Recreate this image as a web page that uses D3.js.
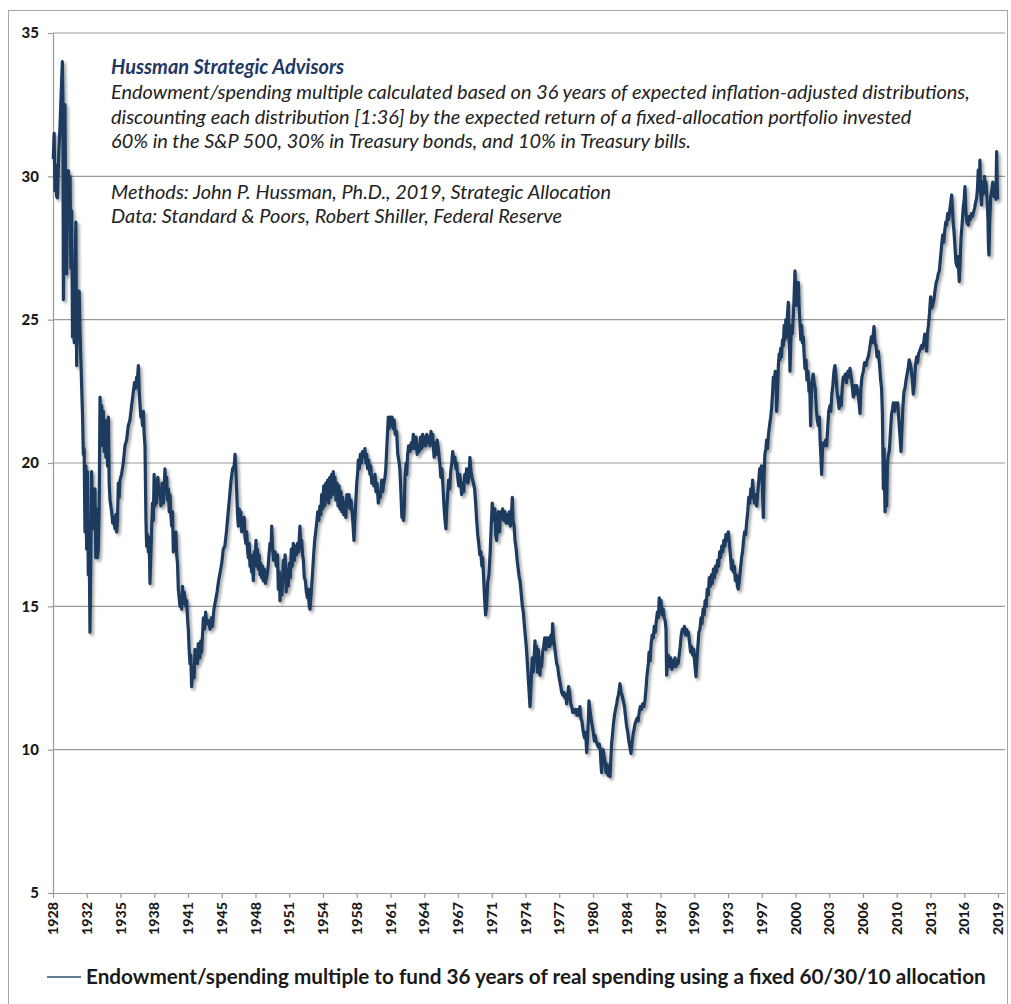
<!DOCTYPE html>
<html><head><meta charset="utf-8">
<script src="https://cdn.jsdelivr.net/npm/d3@7"></script>
<style>body{margin:0;background:#fff}svg{display:block}</style>
</head><body>
<svg id="chart" width="1011" height="1004"></svg>
<script>
// ---------------- DATA ----------------
const yTickValues = [5, 10, 15, 20, 25, 30, 35];
const xTickLabels = ["1928","1932","1935","1938","1941","1945","1948","1951","1954","1958","1961","1964","1967","1971","1974","1977","1980","1984","1987","1990","1993","1997","2000","2003","2006","2010","2013","2016","2019"];
const annotationTitle = "Hussman Strategic Advisors";
const annotationLines = [
  "Endowment/spending multiple calculated based on 36 years of expected inflation-adjusted distributions,",
  "discounting each distribution [1:36] by the expected return of a fixed-allocation portfolio invested",
  "60% in the S&P 500, 30% in Treasury bonds, and 10% in Treasury bills."
];
const sourceLines = [
  "Methods: John P. Hussman, Ph.D., 2019, Strategic Allocation",
  "Data: Standard & Poors, Robert Shiller, Federal Reserve"
];
const legendLabel = "Endowment/spending multiple to fund 36 years of real spending using a fixed 60/30/10 allocation";

// [fractional year, endowment/spending multiple]
const endowmentMultiple = [
[1928.78,30.6],[1928.86,31.5],[1928.94,29.5],[1929.02,30.4],[1929.1,29.3],[1929.17,29.25],[1929.25,30.1],[1929.33,31.0],[1929.42,31.7],[1929.5,32.5],[1929.58,33.3],[1929.65,34.0],[1929.7,32.8],[1929.75,25.7],[1929.82,28.5],[1929.9,32.5],[1929.98,28.0],[1930.07,26.6],[1930.15,29.5],[1930.23,30.2],[1930.31,28.6],[1930.39,30.0],[1930.47,26.8],[1930.55,28.8],[1930.63,24.4],[1930.71,24.9],[1930.8,24.2],[1930.95,28.4],[1931.03,23.4],[1931.12,26.0],[1931.19,25.0],[1931.27,26.0],[1931.35,24.6],[1931.45,23.4],[1931.6,21.6],[1931.67,20.3],[1931.75,20.5],[1931.83,17.6],[1931.92,19.9],[1931.99,17.0],[1932.07,19.7],[1932.15,16.1],[1932.23,17.5],[1932.31,14.1],[1932.4,17.0],[1932.47,19.7],[1932.55,18.4],[1932.63,19.1],[1932.72,17.7],[1932.79,19.1],[1932.87,16.7],[1932.95,18.4],[1933.03,16.7],[1933.11,17.0],[1933.2,18.5],[1933.28,22.3],[1933.36,20.6],[1933.44,22.0],[1933.52,20.8],[1933.6,21.8],[1933.68,20.4],[1933.76,21.5],[1933.84,20.2],[1933.92,21.3],[1934.0,19.9],[1934.08,21.6],[1934.16,19.3],[1934.24,18.7],[1934.32,18.5],[1934.4,18.3],[1934.5,17.9],[1934.6,18.1],[1934.72,17.7],[1934.8,18.2],[1934.88,17.6],[1934.96,18.0],[1935.04,19.3],[1935.12,18.8],[1935.2,19.4],[1935.35,19.6],[1935.52,20.0],[1935.68,20.6],[1935.84,20.8],[1936.0,21.3],[1936.16,21.5],[1936.32,22.0],[1936.49,22.5],[1936.6,22.8],[1936.72,22.6],[1936.81,23.0],[1936.9,23.0],[1936.97,23.4],[1937.05,22.5],[1937.13,22.0],[1937.21,21.6],[1937.29,21.7],[1937.37,21.3],[1937.45,21.8],[1937.53,21.0],[1937.61,20.6],[1937.7,18.0],[1937.77,17.1],[1937.85,17.5],[1937.93,16.9],[1938.01,17.4],[1938.09,15.8],[1938.17,16.8],[1938.25,17.7],[1938.33,18.6],[1938.41,18.0],[1938.49,19.6],[1938.57,18.5],[1938.65,19.4],[1938.73,18.6],[1938.85,19.5],[1938.95,18.9],[1939.05,19.1],[1939.15,18.5],[1939.25,19.3],[1939.37,18.6],[1939.45,19.0],[1939.53,19.8],[1939.62,19.0],[1939.7,19.5],[1939.78,18.7],[1939.86,19.1],[1939.94,18.3],[1940.02,18.9],[1940.1,18.2],[1940.18,17.8],[1940.26,18.3],[1940.34,16.9],[1940.42,17.3],[1940.5,17.0],[1940.58,17.6],[1940.66,16.8],[1940.74,16.5],[1940.82,15.6],[1940.9,15.3],[1940.98,15.0],[1941.06,15.3],[1941.14,14.9],[1941.22,15.7],[1941.3,15.1],[1941.38,15.5],[1941.46,15.3],[1941.54,15.0],[1941.62,15.2],[1941.7,14.6],[1941.78,14.2],[1941.86,13.5],[1941.94,13.0],[1942.02,13.3],[1942.1,12.2],[1942.18,12.6],[1942.26,12.9],[1942.34,12.5],[1942.42,13.5],[1942.5,13.1],[1942.58,13.4],[1942.66,13.0],[1942.74,13.7],[1942.82,13.4],[1942.9,13.2],[1942.98,13.8],[1943.06,13.4],[1943.15,14.0],[1943.23,14.6],[1943.35,14.2],[1943.45,14.8],[1943.55,14.4],[1943.7,14.5],[1943.87,14.2],
[1944.0,14.6],[1944.1,14.3],[1944.25,14.9],[1944.4,15.2],[1944.55,15.5],[1944.7,15.9],[1944.85,16.2],[1945.0,16.5],[1945.15,17.0],[1945.3,17.1],[1945.45,17.6],[1945.6,18.2],[1945.75,18.8],[1945.9,19.4],[1946.05,19.8],[1946.2,19.9],[1946.28,20.3],[1946.36,19.7],[1946.44,19.0],[1946.52,18.2],[1946.6,17.8],[1946.68,18.4],[1946.76,17.9],[1946.84,18.3],[1946.92,17.6],[1947.0,18.0],[1947.08,17.7],[1947.16,18.1],[1947.24,17.4],[1947.32,17.2],[1947.4,17.6],[1947.48,17.0],[1947.56,16.7],[1947.64,17.2],[1947.72,16.4],[1947.8,16.8],[1947.88,16.2],[1947.96,16.5],[1948.04,15.9],[1948.12,16.9],[1948.2,16.6],[1948.3,17.3],[1948.36,16.4],[1948.44,17.0],[1948.52,16.3],[1948.6,16.8],[1948.68,16.1],[1948.76,16.5],[1948.84,16.0],[1948.92,16.4],[1949.0,15.9],[1949.1,16.3],[1949.2,15.8],[1949.32,16.0],[1949.45,16.3],[1949.55,16.8],[1949.65,17.2],[1949.75,17.0],[1949.81,17.8],[1949.9,17.0],[1950.0,16.6],[1950.13,16.9],[1950.25,16.4],[1950.37,16.8],[1950.45,15.6],[1950.55,16.2],[1950.61,15.2],[1950.7,16.0],[1950.8,15.4],[1950.93,16.6],[1951.0,16.0],[1951.1,16.8],[1951.2,15.5],[1951.31,16.3],[1951.4,15.7],[1951.5,16.5],[1951.6,16.0],[1951.7,17.0],[1951.8,16.4],[1951.89,17.2],[1952.0,16.6],[1952.1,17.1],[1952.2,16.8],[1952.3,17.2],[1952.4,16.9],[1952.53,17.8],[1952.62,17.0],[1952.7,17.3],[1952.78,16.8],[1952.86,16.6],[1952.95,16.0],[1953.05,15.9],[1953.15,15.5],[1953.25,15.3],[1953.34,15.6],[1953.42,15.0],[1953.5,14.9],[1953.58,15.3],[1953.66,15.7],[1953.75,16.2],[1953.85,16.8],[1953.95,17.3],[1954.05,17.6],[1954.14,17.9],[1954.25,18.3],[1954.35,18.0],[1954.45,18.5],[1954.55,18.2],[1954.62,18.9],[1954.72,18.4],[1954.82,19.2],[1954.92,18.5],[1955.02,19.3],[1955.1,18.7],[1955.2,19.4],[1955.3,18.6],[1955.4,19.5],[1955.5,18.8],[1955.58,19.6],[1955.66,18.9],[1955.74,19.7],[1955.82,19.0],[1955.9,19.5],[1956.0,18.7],[1956.1,19.3],[1956.2,18.5],[1956.3,19.2],[1956.39,18.4],[1956.48,19.0],[1956.56,18.3],[1956.65,18.8],[1956.75,18.2],[1956.87,18.6],[1956.95,18.1],[1957.05,18.9],[1957.15,18.5],[1957.25,18.9],[1957.35,18.4],[1957.45,18.7],[1957.55,18.3],[1957.65,17.8],[1957.73,17.3],[1957.8,17.9],[1957.9,18.6],[1958.0,19.3],[1958.1,19.7],[1958.15,20.1],[1958.25,19.8],[1958.35,20.3],[1958.45,20.0],[1958.55,20.4],[1958.65,20.2],[1958.79,20.5],[1958.88,20.0],[1958.96,20.3],[1959.05,19.8],[1959.15,20.1],[1959.27,19.6],[1959.35,19.9],[1959.45,19.3],
[1959.55,19.5],[1959.65,19.2],[1959.76,19.6],[1959.85,19.0],[1959.95,19.3],[1960.08,18.6],[1960.18,19.0],[1960.28,18.8],[1960.4,19.4],[1960.5,19.0],[1960.6,19.3],[1960.72,19.5],[1960.8,19.8],[1960.9,20.6],[1961.0,21.3],[1961.04,21.6],[1961.12,21.2],[1961.2,21.6],[1961.3,21.3],[1961.4,21.6],[1961.52,21.2],[1961.6,21.5],[1961.7,21.0],[1961.84,21.1],[1961.95,20.3],[1962.05,20.1],[1962.15,19.8],[1962.25,19.0],[1962.35,18.1],[1962.45,18.3],[1962.5,18.0],[1962.58,18.5],[1962.65,19.5],[1962.75,20.0],[1962.81,19.6],[1962.9,20.3],[1963.0,20.6],[1963.13,20.4],[1963.25,20.7],[1963.35,20.5],[1963.45,21.0],[1963.54,20.8],[1963.62,20.5],[1963.72,20.9],[1963.82,20.3],[1963.93,20.6],[1964.02,20.4],[1964.15,20.9],[1964.25,20.5],[1964.35,21.0],[1964.45,20.6],[1964.55,20.9],[1964.65,20.6],[1964.75,21.0],[1964.85,20.7],[1964.95,20.9],[1965.05,20.6],[1965.15,21.1],[1965.25,20.8],[1965.31,21.0],[1965.45,20.2],[1965.55,20.7],[1965.65,20.3],[1965.75,20.8],[1965.85,20.5],[1966.0,20.0],[1966.1,19.5],[1966.2,19.8],[1966.3,19.2],[1966.4,18.5],[1966.5,18.0],[1966.59,17.7],[1966.65,18.3],[1966.75,18.9],[1966.85,19.4],[1966.95,19.1],[1967.05,19.7],[1967.15,20.0],[1967.24,20.4],[1967.35,20.0],[1967.45,20.2],[1967.55,19.8],[1967.62,20.0],[1967.72,19.5],[1967.82,19.2],[1967.92,19.6],[1968.02,19.3],[1968.1,18.9],[1968.2,19.3],[1968.3,19.0],[1968.4,19.6],[1968.5,19.4],[1968.58,19.8],[1968.7,19.3],[1968.8,19.5],[1968.9,20.2],[1969.0,19.7],[1969.1,19.5],[1969.23,19.3],[1969.35,19.1],[1969.45,18.6],[1969.55,18.0],[1969.65,17.5],[1969.75,17.2],[1969.85,16.8],[1969.95,16.9],[1970.05,16.4],[1970.12,16.7],[1970.22,16.0],[1970.32,15.2],[1970.41,14.7],[1970.5,15.0],[1970.6,15.8],[1970.73,16.1],[1970.85,16.9],[1970.95,17.8],[1971.05,18.6],[1971.12,18.2],[1971.2,18.0],[1971.3,18.4],[1971.38,17.5],[1971.47,17.3],[1971.55,18.0],[1971.65,18.3],[1971.75,17.6],[1971.85,18.3],[1971.95,18.1],[1972.05,18.4],[1972.15,18.0],[1972.28,18.3],[1972.38,17.9],[1972.48,18.2],[1972.6,17.9],[1972.7,18.3],[1972.8,17.8],[1972.9,18.2],[1972.98,18.8],[1973.05,18.0],[1973.15,17.8],[1973.24,17.3],[1973.35,17.0],[1973.45,16.6],[1973.55,16.3],[1973.65,16.0],[1973.72,15.9],[1973.85,15.4],[1973.95,15.0],[1974.04,14.8],[1974.15,14.3],[1974.25,13.9],[1974.35,13.5],[1974.45,12.9],[1974.55,12.3],[1974.62,11.9],[1974.68,11.5],[1974.75,12.0],[1974.82,12.6],[1974.9,13.2],[1975.0,12.7],[1975.08,13.2],[1975.16,13.8],[1975.24,13.3],
[1975.32,13.6],[1975.4,12.7],[1975.48,13.5],[1975.56,13.0],[1975.64,12.6],[1975.72,13.2],[1975.8,12.9],[1975.9,13.4],[1976.0,13.6],[1976.1,13.9],[1976.22,13.5],[1976.3,13.9],[1976.4,13.6],[1976.5,13.9],[1976.6,13.6],[1976.7,14.0],[1976.8,13.7],[1976.86,14.4],[1976.95,13.9],[1977.05,13.6],[1977.15,13.3],[1977.25,13.0],[1977.35,12.9],[1977.45,12.6],[1977.55,12.4],[1977.65,12.2],[1977.73,12.0],[1977.85,11.9],[1977.95,12.0],[1978.05,11.8],[1978.15,11.9],[1978.21,11.6],[1978.3,11.9],[1978.4,12.2],[1978.5,12.0],[1978.6,11.6],[1978.7,11.5],[1978.8,11.3],[1978.9,11.4],[1979.01,11.3],[1979.1,11.4],[1979.2,11.2],[1979.3,11.4],[1979.4,11.2],[1979.49,11.5],[1979.58,11.1],[1979.68,11.0],[1979.78,10.7],[1979.88,10.5],[1979.95,10.4],[1980.05,10.6],[1980.14,9.9],[1980.22,10.4],[1980.3,11.0],[1980.36,11.7],[1980.45,11.4],[1980.55,11.1],[1980.65,10.9],[1980.78,10.6],[1980.88,10.3],[1980.95,10.5],[1981.05,10.3],[1981.15,10.2],[1981.26,10.1],[1981.35,10.2],[1981.45,10.0],[1981.52,9.5],[1981.58,9.2],[1981.65,9.7],[1981.72,10.0],[1981.81,9.8],[1981.9,9.6],[1982.0,9.2],[1982.1,9.5],[1982.2,9.1],[1982.3,9.4],[1982.38,9.06],[1982.46,9.6],[1982.54,10.2],[1982.62,10.5],[1982.72,10.9],[1982.82,11.2],[1982.92,11.4],[1983.03,11.6],[1983.12,11.8],[1983.2,11.9],[1983.35,12.3],[1983.45,12.0],[1983.55,11.9],[1983.67,11.7],[1983.78,11.5],[1983.9,11.1],[1984.0,10.8],[1984.1,10.6],[1984.2,10.3],[1984.3,10.1],[1984.41,9.87],[1984.5,10.2],[1984.6,10.5],[1984.7,10.7],[1984.8,10.9],[1984.89,11.0],[1985.0,11.1],[1985.1,11.0],[1985.2,11.3],[1985.3,11.5],[1985.4,11.4],[1985.53,11.6],[1985.65,11.5],[1985.75,11.7],[1985.85,12.1],[1985.95,12.6],[1986.08,13.0],[1986.15,13.4],[1986.25,13.1],[1986.35,13.7],[1986.45,14.0],[1986.56,13.9],[1986.65,14.3],[1986.75,14.1],[1986.85,14.5],[1986.95,14.8],[1987.05,14.6],[1987.13,15.3],[1987.2,14.9],[1987.3,15.2],[1987.4,14.7],[1987.52,14.9],[1987.6,14.6],[1987.7,14.5],[1987.78,14.2],[1987.84,12.6],[1987.92,13.0],[1988.0,13.3],[1988.1,12.9],[1988.23,13.2],[1988.35,12.8],[1988.45,13.1],[1988.55,12.9],[1988.65,13.2],[1988.75,12.9],[1988.87,13.1],[1988.95,13.0],[1989.05,13.3],[1989.15,13.6],[1989.25,14.0],[1989.35,14.2],[1989.45,14.1],[1989.55,14.3],[1989.65,14.0],[1989.75,14.2],[1989.85,14.0],[1989.93,14.1],[1990.03,13.8],[1990.15,13.4],[1990.25,13.6],[1990.35,13.3],[1990.45,13.5],[1990.55,13.0],[1990.67,12.55],[1990.75,13.1],[1990.85,13.6],[1990.95,14.1],[1991.05,14.2],
[1991.15,14.6],[1991.25,14.4],[1991.35,14.9],[1991.45,14.7],[1991.55,15.2],[1991.65,15.0],[1991.75,15.6],[1991.85,15.4],[1991.95,16.0],[1992.05,15.7],[1992.15,16.1],[1992.25,15.8],[1992.35,16.3],[1992.45,16.0],[1992.55,16.4],[1992.65,16.2],[1992.75,16.6],[1992.85,16.4],[1992.95,16.9],[1993.04,16.7],[1993.15,17.1],[1993.25,16.9],[1993.35,17.3],[1993.45,17.1],[1993.55,17.5],[1993.65,17.3],[1993.78,17.6],[1993.88,17.2],[1993.98,16.8],[1994.08,16.3],[1994.18,16.6],[1994.26,16.2],[1994.36,16.4],[1994.46,15.9],[1994.56,16.1],[1994.66,15.7],[1994.74,15.6],[1994.84,15.9],[1994.95,16.3],[1995.06,16.7],[1995.15,16.9],[1995.25,17.3],[1995.35,17.6],[1995.45,17.5],[1995.54,17.9],[1995.65,18.3],[1995.75,18.8],[1995.85,18.6],[1995.95,19.1],[1996.03,18.8],[1996.12,19.4],[1996.2,18.9],[1996.3,18.6],[1996.4,18.9],[1996.51,18.5],[1996.6,18.9],[1996.7,19.3],[1996.8,19.8],[1996.89,19.7],[1996.97,19.9],[1997.05,19.3],[1997.15,18.1],[1997.22,19.5],[1997.3,20.3],[1997.4,20.5],[1997.47,20.8],[1997.55,20.5],[1997.65,21.0],[1997.75,21.3],[1997.86,21.6],[1997.95,21.9],[1998.05,22.5],[1998.12,23.0],[1998.2,22.8],[1998.3,23.2],[1998.38,22.6],[1998.43,21.8],[1998.5,22.3],[1998.6,23.4],[1998.68,23.8],[1998.75,23.6],[1998.82,24.0],[1998.9,23.7],[1999.0,24.3],[1999.08,24.1],[1999.16,24.8],[1999.24,24.3],[1999.32,25.0],[1999.4,24.4],[1999.48,25.2],[1999.56,25.6],[1999.62,24.5],[1999.68,23.9],[1999.72,23.2],[1999.78,24.0],[1999.86,24.8],[1999.94,24.5],[2000.02,25.0],[2000.1,25.6],[2000.2,26.7],[2000.28,25.9],[2000.36,25.5],[2000.44,25.9],[2000.52,26.3],[2000.6,25.4],[2000.68,24.9],[2000.76,24.3],[2000.84,24.8],[2000.92,24.2],[2001.0,24.4],[2001.08,23.8],[2001.16,23.3],[2001.26,23.6],[2001.35,22.9],[2001.45,23.2],[2001.55,22.5],[2001.62,22.8],[2001.71,21.3],[2001.78,22.4],[2001.86,22.9],[2001.96,23.1],[2002.05,22.8],[2002.15,22.6],[2002.25,21.9],[2002.35,21.5],[2002.45,21.3],[2002.55,21.6],[2002.62,20.8],[2002.7,20.2],[2002.77,19.6],[2002.85,20.5],[2002.95,20.7],[2003.05,20.6],[2003.15,20.8],[2003.25,20.6],[2003.35,21.2],[2003.45,21.8],[2003.57,22.0],[2003.65,21.8],[2003.75,22.4],[2003.85,22.7],[2003.95,23.2],[2004.05,23.4],[2004.15,23.0],[2004.25,22.5],[2004.35,22.2],[2004.45,21.9],[2004.55,22.3],[2004.65,22.0],[2004.75,22.6],[2004.85,23.0],[2004.95,22.9],[2005.05,23.1],[2005.15,22.8],[2005.3,23.2],[2005.4,23.0],
[2005.5,23.3],[2005.65,22.9],[2005.82,22.3],[2005.95,22.7],[2006.05,22.4],[2006.14,22.7],[2006.3,22.4],[2006.46,21.73],[2006.55,22.6],[2006.65,23.0],[2006.78,23.2],[2006.9,23.5],[2007.05,23.4],[2007.15,23.6],[2007.26,23.7],[2007.4,24.0],[2007.55,24.4],[2007.65,24.2],[2007.81,24.76],[2007.9,24.2],[2008.0,24.1],[2008.1,23.7],[2008.22,23.9],[2008.35,23.4],[2008.45,22.9],[2008.54,22.6],[2008.62,21.7],[2008.71,19.1],[2008.78,20.5],[2008.87,18.3],[2008.95,19.0],[2009.03,18.5],[2009.1,20.0],[2009.2,20.3],[2009.28,20.4],[2009.38,21.0],[2009.5,21.7],[2009.6,21.9],[2009.67,22.1],[2009.78,21.8],[2009.9,22.1],[2010.0,22.0],[2010.09,22.1],[2010.2,21.5],[2010.3,21.0],[2010.41,20.4],[2010.5,21.2],[2010.6,22.0],[2010.7,22.5],[2010.79,22.6],[2010.9,22.9],[2011.0,23.1],[2011.1,23.3],[2011.2,23.6],[2011.27,23.5],[2011.38,23.3],[2011.5,22.9],[2011.59,22.4],[2011.7,22.8],[2011.8,23.4],[2011.92,23.7],[2012.0,23.5],[2012.1,23.8],[2012.2,23.9],[2012.3,24.0],[2012.4,24.1],[2012.5,24.0],[2012.6,24.2],[2012.7,24.5],[2012.8,24.3],[2012.88,23.9],[2012.95,24.5],[2013.05,24.8],[2013.15,25.2],[2013.26,25.8],[2013.35,25.4],[2013.45,25.5],[2013.58,25.7],[2013.68,26.0],[2013.8,26.3],[2013.9,26.4],[2014.0,26.6],[2014.1,26.7],[2014.2,27.1],[2014.3,27.5],[2014.42,27.95],[2014.52,27.7],[2014.62,28.1],[2014.72,28.4],[2014.8,28.3],[2014.9,28.7],[2015.0,28.5],[2015.1,28.8],[2015.2,29.1],[2015.29,29.35],[2015.37,28.8],[2015.45,28.3],[2015.51,28.1],[2015.6,27.6],[2015.7,27.0],[2015.78,26.9],[2015.83,26.85],[2015.9,27.2],[2016.02,26.33],[2016.1,27.0],[2016.2,27.9],[2016.31,28.4],[2016.4,28.9],[2016.5,29.2],[2016.57,29.64],[2016.65,28.8],[2016.75,28.4],[2016.89,28.3],[2017.0,28.6],[2017.1,28.5],[2017.2,28.7],[2017.3,28.6],[2017.37,28.7],[2017.5,28.9],[2017.6,29.1],[2017.69,29.23],[2017.78,29.6],[2017.85,30.22],[2017.95,29.5],[2018.01,30.57],[2018.08,29.4],[2018.17,29.0],[2018.25,29.8],[2018.35,29.4],[2018.45,30.0],[2018.52,29.6],[2018.59,29.8],[2018.7,29.2],[2018.78,28.5],[2018.84,27.5],[2018.88,27.26],[2018.95,28.4],[2019.05,29.3],[2019.14,29.5],[2019.25,29.8],[2019.35,29.3],[2019.46,29.4],[2019.55,29.2],[2019.62,30.86],[2019.67,29.8],[2019.71,29.2]
];

// ---------------- LAYOUT ----------------
const W = 1011, H = 1004;
const plot = {left: 53, right: 1005, top: 33, bottom: 893};
const firstTick = 1928.75, tickStep = 3.25;        // category-axis label interval (39 months)
const pxPerYear = 945 / 91;
const svg = d3.select("#chart");

const x = d3.scaleLinear()
  .domain([firstTick, firstTick + (plot.right - plot.left) / pxPerYear])
  .range([plot.left, plot.right]);
const y = d3.scaleLinear().domain([5, 35]).range([plot.bottom, plot.top]);

const defs = svg.append("defs");
const f = defs.append("filter").attr("id", "shadow").attr("x", "-5%").attr("y", "-5%").attr("width", "110%").attr("height", "110%");
f.append("feDropShadow").attr("dx", 2).attr("dy", 2.4).attr("stdDeviation", 1.6)
  .attr("flood-color", "#000").attr("flood-opacity", 0.38);

// outer border
svg.append("rect").attr("x", 8.5).attr("y", 10.5).attr("width", 999).attr("height", 1000)
  .attr("fill", "#fff").attr("stroke", "#a6a6a6").attr("stroke-width", 1);

// gridlines
svg.append("g").selectAll("line").data(yTickValues.filter(v => v > 5)).join("line")
  .attr("x1", plot.left).attr("x2", plot.right)
  .attr("y1", d => y(d)).attr("y2", d => y(d))
  .attr("stroke", "#9a9a9a").attr("stroke-width", 1.2);

// y axis
const yAxis = svg.append("g").attr("transform", `translate(${plot.left},0)`)
  .call(d3.axisLeft(y).tickValues(yTickValues).tickSize(5).tickSizeOuter(0).tickPadding(9));
yAxis.select(".domain").attr("stroke", "#9a9a9a").attr("stroke-width", 1.2);
yAxis.selectAll(".tick line").attr("stroke", "#9a9a9a").attr("stroke-width", 1.2);
yAxis.selectAll(".tick text").attr("font-family", "Lato, 'Open Sans', sans-serif")
  .attr("font-weight", 900).attr("font-size", 15).attr("fill", "#1a1a1a");

// x axis
const tickPositions = xTickLabels.map((_, i) => firstTick + i * tickStep);
const xAxis = svg.append("g").attr("transform", `translate(0,${plot.bottom})`)
  .call(d3.axisBottom(x).tickValues(tickPositions).tickFormat((d, i) => xTickLabels[i])
    .tickSize(5).tickSizeOuter(0));
xAxis.select(".domain").attr("stroke", "#9a9a9a").attr("stroke-width", 1.2);
xAxis.selectAll(".tick line").attr("stroke", "#9a9a9a").attr("stroke-width", 1.2);
xAxis.selectAll(".tick text")
  .attr("font-family", "Lato, 'Open Sans', sans-serif").attr("font-weight", 900)
  .attr("font-size", 13).attr("fill", "#1a1a1a")
  .attr("text-anchor", "end").attr("dy", "0.35em").attr("y", 0).attr("x", 0)
  .each(function () {
    const w = this.getComputedTextLength();
    const s = 33 / w;
    d3.select(this).attr("transform", `translate(0,9) rotate(-90) scale(${s},1)`);
  });

// data line
const line = d3.line().x(d => x(d[0])).y(d => y(d[1]));
svg.append("path").datum(endowmentMultiple)
  .attr("d", line).attr("fill", "none")
  .attr("stroke", "#1b3a5e").attr("stroke-width", 3.2)
  .attr("stroke-linejoin", "round").attr("filter", "url(#shadow)");

// annotation
const ann = svg.append("g").attr("font-family", "Lato, 'Open Sans', sans-serif")
  .attr("font-style", "italic");
const annX = 111;
const t0 = ann.append("text").attr("x", annX).attr("y", 74).attr("font-weight", 700)
  .attr("fill", "#1f3864").text(annotationTitle);
const bodyTexts = [];
annotationLines.forEach((s, i) => {
  bodyTexts.push(ann.append("text").attr("x", annX).attr("y", 99 + i * 24.6).attr("fill", "#222").text(s));
});
sourceLines.forEach((s, i) => {
  bodyTexts.push(ann.append("text").attr("x", annX).attr("y", 198.5 + i * 24.6).attr("fill", "#222").text(s));
});
// size annotation so the longest line spans the same width as in the reference
bodyTexts.forEach(t => t.attr("font-size", 17));
const w0 = bodyTexts[0].node().getComputedTextLength();
const annSize = 17 * 859 / w0;
bodyTexts.forEach(t => t.attr("font-size", annSize));
t0.attr("font-size", annSize);

// legend
const lg = svg.append("g");
lg.append("line").attr("x1", 47).attr("x2", 81).attr("y1", 977).attr("y2", 977)
  .attr("stroke", "#2f4d73").attr("stroke-width", 1.6);
const lt = lg.append("text").attr("x", 86).attr("y", 983.5)
  .attr("font-family", "Lato, 'Open Sans', sans-serif").attr("font-weight", 700)
  .attr("font-size", 18).attr("fill", "#1a1a1a").text(legendLabel);
const lw = lt.node().getComputedTextLength();
lt.attr("font-size", 18 * 900 / lw);
</script>
</body></html>
